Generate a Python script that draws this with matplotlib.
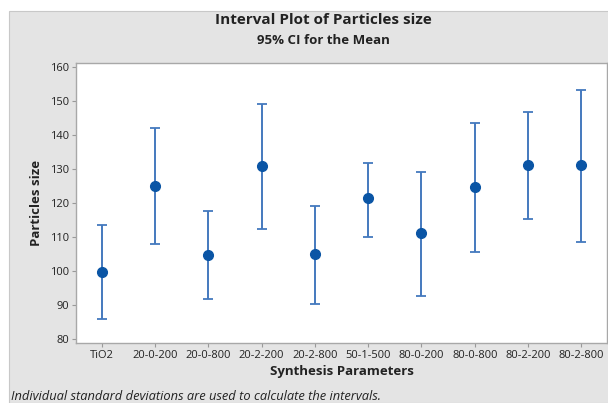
import matplotlib
matplotlib.use('Agg')
import matplotlib.pyplot as plt
from matplotlib.patches import Rectangle

plt.rcParams['font.family'] = ['Open Sans', 'DejaVu Sans']

# %% Data: means and 95% CI bounds per synthesis condition
groups = ['TiO2', '20-0-200', '20-0-800', '20-2-200', '20-2-800',
          '50-1-500', '80-0-200', '80-0-800', '80-2-200', '80-2-800']
means = [99.7, 125.0, 104.7, 130.7, 105.1, 121.3, 111.0, 124.6, 131.0, 131.0]
upper = [113.4, 141.9, 117.5, 149.1, 119.0, 131.8, 129.0, 143.5, 146.6, 153.1]
lower = [85.9, 107.9, 91.8, 112.2, 90.2, 110.0, 92.5, 105.6, 115.3, 108.4]
yticks = [80, 90, 100, 110, 120, 130, 140, 150, 160]

# %% Plot
fig = plt.figure(figsize=(6.08, 4.03), dpi=100)
fig.patch.set_facecolor('white')
bg = Rectangle((9 / 608, 0), 1, (403 - 11) / 403, transform=fig.transFigure,
               facecolor='#e4e4e4', edgecolor='#c8c8c8', lw=0.8, zorder=-10)
fig.add_artist(bg)

ax = fig.add_axes([76 / 608, 60 / 403, 531 / 608, 280.3 / 403])
ax.set_zorder(1)
ax.set_facecolor('white')

x = list(range(1, len(groups) + 1))
err_lo = [m - l for m, l in zip(means, lower)]
err_hi = [u - m for m, u in zip(means, upper)]
ax.errorbar(x, means, yerr=[err_lo, err_hi], fmt='none', ecolor='#4479be',
            elinewidth=1.4, capsize=3.7, capthick=1.3, zorder=2)
ax.plot(x, means, 'o', color='#0a55a5', markersize=7, zorder=3)

ax.set_xlim(0.52, 10.48)
ax.set_ylim(78.8, 161.2)
ax.set_xticks(x)
ax.set_xticklabels(groups, fontsize=8, color='#222222')
ax.set_yticks(yticks)
ax.set_yticklabels([str(t) for t in yticks], fontsize=8, color='#222222')
ax.tick_params(length=3, width=0.8, color='#999999', pad=2)
for s in ax.spines.values():
    s.set_color('#a8a8a8')
    s.set_linewidth(1.0)

ax.set_xlabel('Synthesis Parameters', fontsize=9.5, fontweight='bold', color='#222222', labelpad=3)
ax.set_ylabel('Particles size', fontsize=9.5, fontweight='bold', color='#222222', labelpad=5)

fig.text(323 / 608, 1 - 20 / 403, 'Interval Plot of Particles size', ha='center', va='center',
         fontsize=11, fontweight='bold', color='#222222')
fig.text(323 / 608, 1 - 41 / 403, '95% CI for the Mean', ha='center', va='center',
         fontsize=9.5, fontweight='bold', color='#222222')
fig.text(11 / 608, 1 - 396 / 403, 'Individual standard deviations are used to calculate the intervals.',
         ha='left', va='center', fontsize=9.3, style='italic', color='#222222')

fig.savefig('out.png', dpi=100)
